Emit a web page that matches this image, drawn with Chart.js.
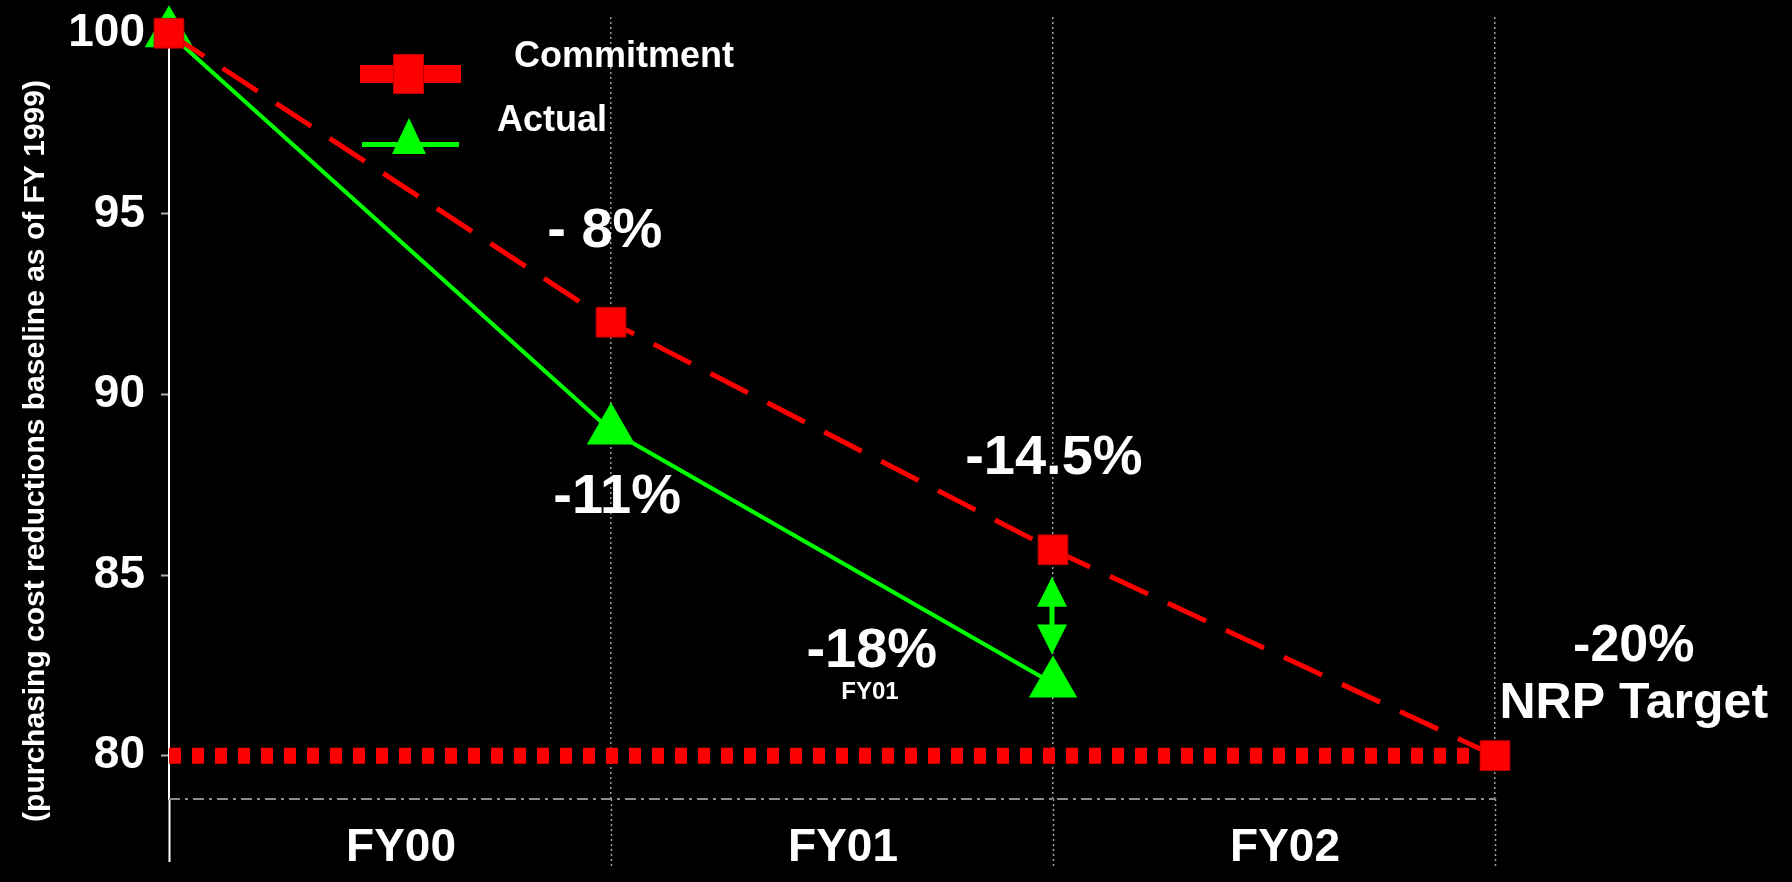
<!DOCTYPE html>
<html>
<head>
<meta charset="utf-8">
<script src="https://cdn.jsdelivr.net/npm/chart.js@4"></script>
<style>
html, body { margin: 0; padding: 0; background: #000; overflow: hidden; }
</style>
</head>
<body>
<canvas id="myChart" width="1792" height="882"></canvas>
<script>
// chart values
var periods = [0, 1, 2, 3];
var fy_labels = ['FY00', 'FY01', 'FY02'];
var commitment = [100, 92, 85.7, 80];
var actual = [100, 89, 82];
var nrp_target = [80, 80, 80, 80];
var y_ticks = [80, 85, 90, 95, 100];
var gap_arrow = [84.95, 82.8];

var FONT = '"Liberation Sans", Arial, sans-serif';
var RED = '#ff0000', GREEN = '#00ff00';

// text notes, placed in data coordinates
var notes = [
	{text: '- 8%', x: 0.986, y: 94.52, size: 56},
	{text: '-11%', x: 1.014, y: 87.15, size: 56},
	{text: '-14.5%', x: 2.002, y: 88.23, size: 56},
	{text: '-18%', x: 1.59, y: 82.88, size: 56},
	{text: 'FY01', x: 1.586, y: 81.75, size: 24},
	{text: '-20%', x: 3.314, y: 83.03, size: 52},
	{text: 'NRP Target', x: 3.314, y: 81.43, size: 50}
];

function pts(vals) {
	return vals.map(function(v, i) { return {x: periods[i], y: v}; });
}

function isWhole(v) { return Math.abs(v - Math.round(v)) < 1e-6; }

var extras = {
	id: 'extras',
	beforeDraw: function(chart) {
		var ctx = chart.ctx;
		ctx.save();
		ctx.fillStyle = '#000';
		ctx.fillRect(0, 0, chart.width, chart.height);
		ctx.restore();
	},
	beforeDatasetsDraw: function(chart) {
		var ctx = chart.ctx, a = chart.chartArea, x = chart.scales.x;
		ctx.save();
		// grid lines carried on below the plot, through the label row
		periods.forEach(function(p) {
			var px = Math.round(x.getPixelForValue(p)) + 0.5;
			ctx.strokeStyle = p === 0 ? '#fff' : '#a0a0a0';
			ctx.lineWidth = p === 0 ? 2 : 1.5;
			ctx.setLineDash(p === 0 ? [] : [2, 3]);
			ctx.beginPath();
			ctx.moveTo(px, a.bottom);
			ctx.lineTo(px, a.bottom + (p === 0 ? 63 : 70));
			ctx.stroke();
		});
		// dash-dot base line
		ctx.strokeStyle = '#8c8c8c';
		ctx.lineWidth = 2;
		ctx.setLineDash([11, 5, 3, 5]);
		ctx.beginPath();
		ctx.moveTo(a.left, a.bottom);
		ctx.lineTo(a.right, a.bottom);
		ctx.stroke();
		ctx.restore();
	},
	afterDatasetsDraw: function(chart) {
		var ctx = chart.ctx, x = chart.scales.x, y = chart.scales.y;
		ctx.save();
		ctx.fillStyle = '#fff';
		ctx.textAlign = 'center';
		ctx.textBaseline = 'middle';
		notes.forEach(function(n) {
			ctx.font = 'bold ' + n.size + 'px ' + FONT;
			ctx.fillText(n.text, x.getPixelForValue(n.x), y.getPixelForValue(n.y));
		});

		// double arrow between commitment and actual at FY01 end
		var ax = x.getPixelForValue(2) - 1;
		var top = y.getPixelForValue(gap_arrow[0]);
		var bot = y.getPixelForValue(gap_arrow[1]);
		ctx.fillStyle = GREEN;
		ctx.strokeStyle = GREEN;
		ctx.lineWidth = 5;
		ctx.beginPath();
		ctx.moveTo(ax, top + 25);
		ctx.lineTo(ax, bot - 25);
		ctx.stroke();
		ctx.beginPath();
		ctx.moveTo(ax, top); ctx.lineTo(ax + 15, top + 30); ctx.lineTo(ax - 15, top + 30);
		ctx.closePath(); ctx.fill();
		ctx.beginPath();
		ctx.moveTo(ax, bot); ctx.lineTo(ax + 15, bot - 30); ctx.lineTo(ax - 15, bot - 30);
		ctx.closePath(); ctx.fill();

		// legend
		var ds = chart.data.datasets;
		ctx.fillStyle = RED;
		ctx.fillRect(360, 65, 101, 18);
		ctx.fillRect(393, 54, 31, 40);
		ctx.strokeStyle = '#c00000';
		ctx.lineWidth = 1;
		ctx.strokeRect(393.5, 54.5, 30, 39);
		ctx.fillStyle = GREEN;
		ctx.fillRect(362, 142, 97, 5);
		ctx.beginPath();
		ctx.moveTo(409, 118); ctx.lineTo(426, 154); ctx.lineTo(392, 154);
		ctx.closePath(); ctx.fill();
		ctx.fillStyle = '#fff';
		ctx.textAlign = 'left';
		ctx.font = 'bold 36px ' + FONT;
		ctx.fillText(ds[0].label, 514, 57);
		ctx.fillText(ds[1].label, 497, 121);

		// y axis title
		ctx.translate(36, 451);
		ctx.rotate(-Math.PI / 2);
		ctx.textAlign = 'center';
		ctx.font = 'bold 30px ' + FONT;
		ctx.fillText('(purchasing cost reductions baseline as of FY 1999)', 0, 0);
		ctx.restore();
	}
};

var ctx = document.getElementById('myChart');
var chart = new Chart(ctx, {
	type: 'line',
	data: {
		datasets: [{
			label: 'Commitment',
			data: pts(commitment),
			borderColor: RED,
			borderWidth: 5,
			borderDash: [42, 22],
			pointStyle: 'rect',
			pointRadius: 21,
			pointBackgroundColor: RED,
			pointBorderColor: '#c00000',
			pointBorderWidth: 1,
			clip: false
		}, {
			label: 'Actual',
			data: pts(actual),
			borderColor: GREEN,
			borderWidth: 4,
			pointStyle: 'triangle',
			pointRadius: 28,
			pointBackgroundColor: GREEN,
			pointBorderColor: GREEN,
			pointBorderWidth: 0,
			clip: false
		}, {
			label: 'NRP Target',
			data: pts(nrp_target),
			borderColor: RED,
			borderWidth: 16,
			borderDash: [12, 11],
			pointRadius: 0,
			clip: false
		}]
	},
	options: {
		responsive: false,
		devicePixelRatio: 1,
		animation: false,
		events: [],
		layout: {autoPadding: false, padding: {left: 0, right: 297, top: 17, bottom: 0}},
		plugins: {legend: {display: false}, tooltip: {enabled: false}},
		scales: {
			x: {
				type: 'linear',
				min: 0,
				max: 3,
				afterFit: function(s) {
					s.height = 83;
					s.paddingLeft = 0;
					s.paddingRight = 0;
				},
				ticks: {
					stepSize: 0.5,
					autoSkip: false,
					maxRotation: 0,
					labelOffset: 11,
					color: '#fff',
					font: {family: FONT, size: 46, weight: 'bold'},
					padding: 22,
					callback: function(v) {
						return isWhole(v) ? '' : fy_labels[Math.floor(v)];
					}
				},
				grid: {
					drawTicks: false,
					color: function(c) {
						var v = c.tick.value;
						if (!isWhole(v)) return 'rgba(0,0,0,0)';
						return v === 0 ? '#fff' : '#a0a0a0';
					},
					lineWidth: function(c) { return c.tick.value === 0 ? 2 : 1.5; }
				},
				border: {
					display: false,
					dash: function(c) { return c.tick && c.tick.value === 0 ? [] : [2, 3]; }
				}
			},
			y: {
				min: 78.8,
				max: 100.45,
				afterBuildTicks: function(s) {
					s.ticks = y_ticks.map(function(v) { return {value: v}; });
				},
				afterFit: function(s) {
					s.width = 169;
					s.paddingTop = 0;
					s.paddingBottom = 0;
				},
				ticks: {
					color: '#fff',
					font: {family: FONT, size: 46, weight: 'bold'},
					padding: 16
				},
				grid: {
					drawOnChartArea: false,
					tickLength: 8,
					tickColor: '#b0b0b0',
					tickWidth: 2
				},
				border: {color: '#fff', width: 2}
			}
		}
	},
	plugins: [extras]
});
</script>
</body>
</html>
